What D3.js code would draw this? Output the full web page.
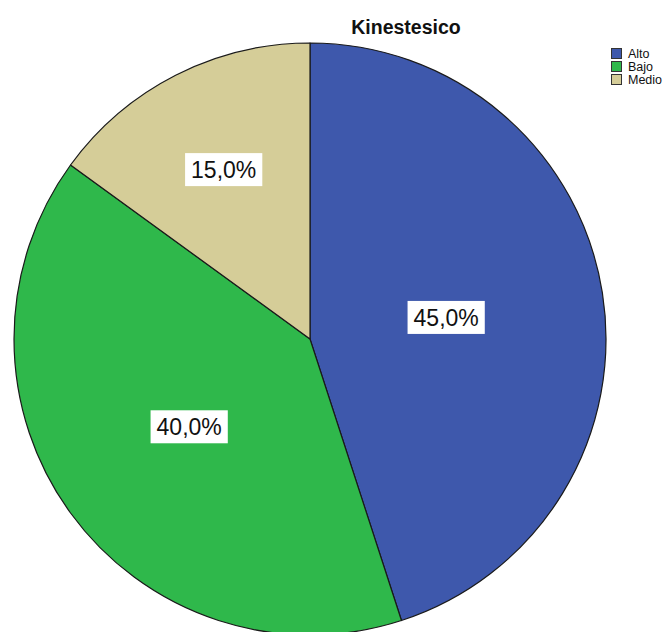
<!DOCTYPE html>
<html>
<head>
<meta charset="utf-8">
<script src="https://cdn.jsdelivr.net/npm/d3@7"></script>
<style>
  html, body { margin: 0; padding: 0; background: #fff; overflow: hidden; }
  svg { display: block; font-family: Arial, "Liberation Sans", sans-serif; }
</style>
</head>
<body>
<svg id="chart" width="664" height="632"></svg>
<script>
// Kinestesico: share of respondents per level
const categories = ["Alto", "Bajo", "Medio"];
const percentages = [45.0, 40.0, 15.0];
const sliceColors = ["#3e58ac", "#2fb84b", "#d5cd98"];
const chartTitle = "Kinestesico";

const svg = d3.select("#chart");
const cx = 310, cy = 339, radius = 296;

const color = d3.scaleOrdinal().domain(categories).range(sliceColors);

const pie = d3.pie().sort(null).value(d => d.value);
const data = categories.map((c, i) => ({ name: c, value: percentages[i] }));
const arcs = pie(data);

const arc = d3.arc().innerRadius(0).outerRadius(radius);

const g = svg.append("g").attr("transform", `translate(${cx},${cy})`);

g.selectAll("path.slice")
  .data(arcs)
  .join("path")
  .attr("class", "slice")
  .attr("d", arc)
  .attr("fill", d => color(d.data.name))
  .attr("stroke", "#1a1a1a")
  .attr("stroke-width", 1.2)
  .attr("stroke-linejoin", "round");

// Percentage labels placed at the area centroid of each sector
const fmt = v => d3.format(".1f")(v).replace(".", ",") + "%";
const labels = g.selectAll("g.lbl")
  .data(arcs)
  .join("g")
  .attr("class", "lbl")
  .attr("transform", d => {
    const half = (d.endAngle - d.startAngle) / 2;
    const mid = d.startAngle + half;
    const dist = 2 * radius * Math.sin(half) / (3 * half);
    return `translate(${dist * Math.sin(mid)},${-dist * Math.cos(mid)})`;
  });

labels.each(function(d) {
  const sel = d3.select(this);
  const t = sel.append("text")
    .attr("text-anchor", "middle")
    .attr("dy", "0.36em")
    .attr("font-size", 23)
    .attr("fill", "#111")
    .text(fmt(d.data.value));
  const bb = t.node().getBBox();
  sel.insert("rect", "text")
    .attr("x", bb.x - 6)
    .attr("y", -16.5)
    .attr("width", bb.width + 12)
    .attr("height", 33)
    .attr("fill", "#fff");
});

// Title
svg.append("text")
  .attr("x", 406)
  .attr("y", 34)
  .attr("text-anchor", "middle")
  .attr("font-size", 19.5)
  .attr("font-weight", "bold")
  .attr("fill", "#111")
  .text(chartTitle);

// Legend
const legend = svg.append("g").attr("transform", "translate(611,48)");
const items = legend.selectAll("g")
  .data(categories)
  .join("g")
  .attr("transform", (d, i) => `translate(0,${i * 13})`);
items.append("rect")
  .attr("x", 0.5).attr("y", 0.5)
  .attr("width", 10).attr("height", 10)
  .attr("fill", d => color(d))
  .attr("stroke", "#333")
  .attr("stroke-width", 1);
items.append("text")
  .attr("x", 17)
  .attr("y", 10)
  .attr("font-size", 12.5)
  .attr("fill", "#111")
  .text(d => d);
</script>
</body>
</html>
